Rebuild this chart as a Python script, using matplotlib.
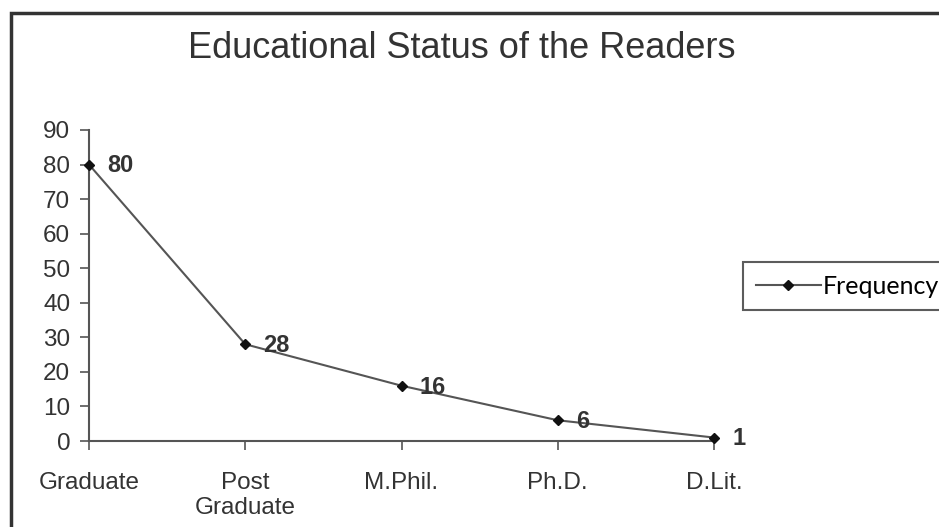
import matplotlib.pyplot as plt
from matplotlib.patches import Rectangle

# Datos
categories = ["Graduate", "Post\nGraduate", "M.Phil.", "Ph.D.", "D.Lit."]
frequency = [80, 28, 16, 6, 1]
y_ticks = [0, 10, 20, 30, 40, 50, 60, 70, 80, 90]

plt.rcParams["font.family"] = ["Liberation Sans", "DejaVu Sans"]

fig = plt.figure(figsize=(9.39, 5.27), dpi=100)
ax = fig.add_axes([89 / 939, 1 - 441 / 527, (714 - 89) / 939, (441 - 130) / 527])

x = list(range(len(categories)))
line, = ax.plot(x, frequency, color="#555555", linewidth=1.5, marker="D",
                markersize=5, markerfacecolor="#111111", markeredgecolor="#111111",
                label="Frequency", clip_on=False, zorder=3)

for xi, v in zip(x, frequency):
    ax.annotate(str(v), (xi, v), xytext=(13, -1), textcoords="offset points",
                fontsize=17, fontweight="bold", color="#333333", va="center", ha="left")

ax.set_xlim(0, len(categories) - 1)
ax.set_ylim(0, 90)
ax.set_yticks(y_ticks)
ax.set_xticks(x)
ax.set_xticklabels(categories, fontsize=17.5, color="#333333", linespacing=1.15)
ax.tick_params(axis="y", labelsize=17.5, labelcolor="#333333", length=6.5, width=1.2,
               color="#555555", direction="out", pad=7)
ax.tick_params(axis="x", length=6.5, width=1.2, color="#555555", direction="out", pad=16)

for s in ["top", "right"]:
    ax.spines[s].set_visible(False)
for s in ["left", "bottom"]:
    ax.spines[s].set_color("#555555")
    ax.spines[s].set_linewidth(1.5)

fig.text(462 / 939, 1 - 48 / 527, "Educational Status of the Readers", fontsize=26,
         color="#333333", ha="center", va="center")

# Leyenda pegada al borde derecho
leg = fig.legend(handles=[line], loc="center left", bbox_to_anchor=(743 / 939, 1 - 286 / 527),
                 frameon=True, fancybox=False, handlelength=2.6, borderaxespad=0,
                 handletextpad=0.1, borderpad=0.5,
                 prop={"family": ["Lato", "DejaVu Sans"], "size": 18})
leg.get_frame().set_edgecolor("#333333")
leg.get_frame().set_linewidth(1.5)

# Marco exterior del gráfico
fig.patches.append(Rectangle((11 / 939, -0.1), 1.2, 1 - 13 / 527 + 0.1,
                             transform=fig.transFigure, fill=False,
                             edgecolor="#333333", linewidth=2.5))

fig.savefig("out.png", dpi=100)
